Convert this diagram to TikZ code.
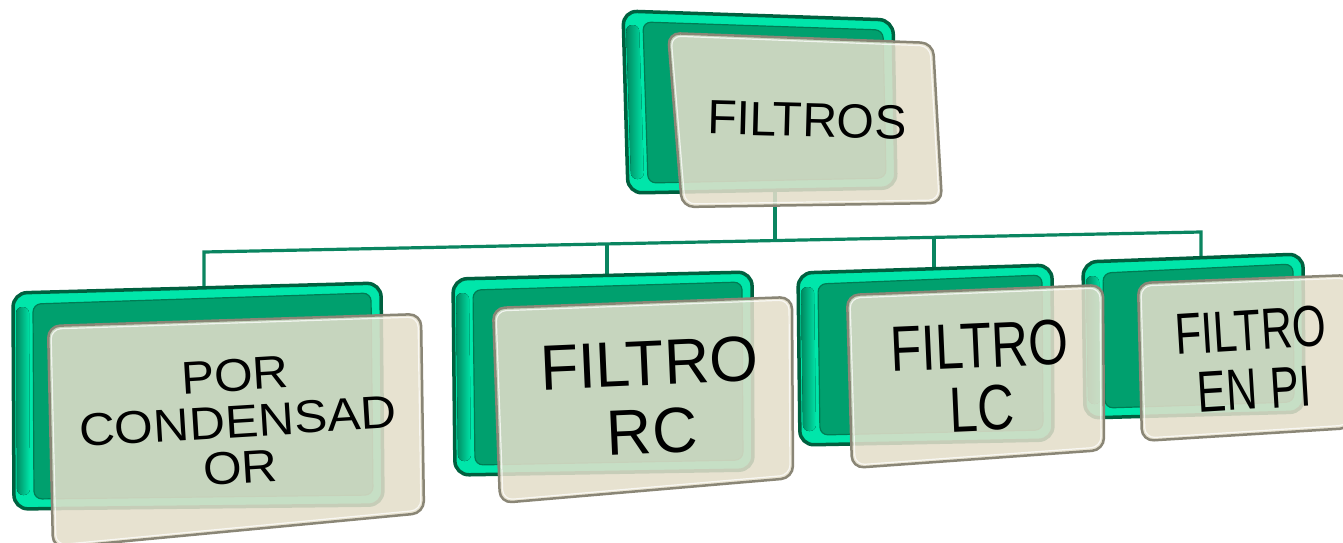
\documentclass[tikz,border=0pt]{standalone}
\usepackage{fontspec}
\setmainfont{Liberation Sans}
\usetikzlibrary{calc}
\definecolor{gdark}{HTML}{00603F}
\definecolor{gbright}{HTML}{00E6AA}
\definecolor{gbody}{HTML}{00A06E}
\definecolor{gline}{HTML}{007C54}
\definecolor{conncol}{HTML}{0A8560}
\definecolor{beige}{HTML}{E4DECA}
\definecolor{pborder}{HTML}{8A8676}
\tikzset{
  gouter/.style={rounded corners=14pt, fill=gbright, draw=gdark, line width=3.5pt},
  gleft/.style={rounded corners=6pt, left color=gdark!70!gbright, right color=gbright, draw=none},
  ginner/.style={rounded corners=8pt, fill=gbody, draw=gline, line width=1.2pt},
  panel/.style={rounded corners=12pt, fill=beige, fill opacity=0.87, draw=pborder, draw opacity=1, line width=2.5pt},
  panelhi/.style={rounded corners=10pt, draw=white, draw opacity=0.75, line width=1.2pt},
  conn/.style={draw=conncol, line width=3.2pt, line join=miter},
  lbl/.style={text=black, inner sep=0pt, align=center}
}
\newcommand{\greenbox}[4]{%
  \draw[gouter] (#1) -- (#2) -- (#3) -- (#4) -- cycle;
  \fill[gleft] ($(#1)+(3,14)$) -- ($(#1)+(16,14)$) -- ($(#4)+(16,-14)$) -- ($(#4)+(3,-14)$) -- cycle;
  \draw[ginner] ($(#1)+(20,11)$) -- ($(#2)+(-10,10)$) -- ($(#3)+(-10,-10)$) -- ($(#4)+(20,-10)$) -- cycle;
}
\newcommand{\frontpanel}[4]{%
  \draw[panel] (#1) -- (#2) -- (#3) -- (#4) -- cycle;
  \draw[panelhi] ($(#1)+(3,3)$) -- ($(#2)+(-3,3)$) -- ($(#3)+(-3,-3)$) -- ($(#4)+(3,-3)$) -- cycle;
}
\begin{document}
\begin{tikzpicture}[x=1pt,y=-1pt]
\useasboundingbox (0,0) rectangle (1343,542);
\fill[white] (0,0) rectangle (1343,542);
% connector points
\coordinate (cTop) at (775,188);
\coordinate (busM) at (775,240.5);
\coordinate (busL) at (204,252);
\coordinate (busR) at (1201,232);
\coordinate (bus2) at (607,243.9);
\coordinate (bus3) at (934,237.4);
\coordinate (g1) at (204,289);
\coordinate (g2) at (607,276);
\coordinate (g3) at (934,269);
\coordinate (g4) at (1201,259);
\draw[conn] (cTop) -- (busM);
\draw[conn] (g1) -- (busL) -- (busR) -- (g4);
\draw[conn] (bus2) -- (g2);
\draw[conn] (bus3) -- (g3);
% green back boxes
\greenbox{623,11}{893,20}{896,188}{628,193}
\greenbox{13,293}{381,283}{383,505}{14,509}
\greenbox{453,279}{752,272}{753,470}{455,475}
\greenbox{798,273}{1052,265}{1053,440}{800,445}
\greenbox{1083,262}{1303,254}{1304,412}{1085,418}
% front panels
\frontpanel{668,33}{933,43}{942,203}{682,207}
\frontpanel{48,326}{421,314}{424,513}{53,548}
\frontpanel{493,308}{792,297}{793,478}{500,503}
\frontpanel{847,295}{1103,285}{1104,450}{852,468}
\frontpanel{1138,283}{1352,275}{1352,428}{1142,441}
% texts
\node[lbl, rotate=-1.5] (tFiltros) at (807,120) {\fontsize{48}{55}\selectfont FILTROS};
\node[lbl, rotate=3.5] (tPor) at (238,428) {\scalebox{1.08}[1]{\fontsize{46}{46.5}\selectfont\begin{tabular}{@{}c@{}}POR\\CONDENSAD\\OR\end{tabular}}};
\node[lbl, rotate=2.5] (tRC) at (651,406) {\scalebox{0.98}[1]{\fontsize{64}{68}\selectfont\begin{tabular}{@{}c@{}}FILTRO\\RC\end{tabular}}};
\node[lbl, rotate=2.5] (tLC) at (981,386) {\scalebox{0.8}[1]{\fontsize{64}{61}\selectfont\begin{tabular}{@{}c@{}}FILTRO\\LC\end{tabular}}};
\node[lbl, rotate=3.5] (tPI) at (1253,368) {\scalebox{0.75}[1]{\fontsize{58}{59}\selectfont\begin{tabular}{@{}c@{}}FILTRO\\EN PI\end{tabular}}};
\end{tikzpicture}
\end{document}
